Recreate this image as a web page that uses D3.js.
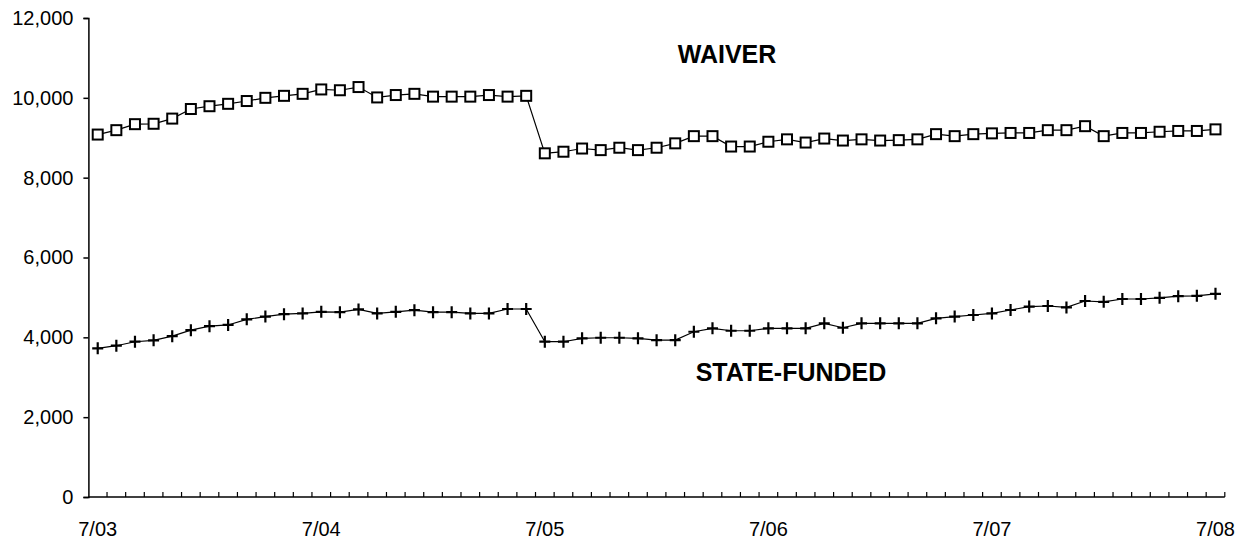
<!DOCTYPE html>
<html>
<head>
<meta charset="utf-8">
<script src="https://cdn.jsdelivr.net/npm/d3@7"></script>
<style>
  html, body { margin: 0; padding: 0; background: #fff; }
  svg { display: block; }
  text { font-family: Arial, "Liberation Sans", sans-serif; fill: #000; }
</style>
</head>
<body>
<svg id="chart" width="1248" height="542"></svg>
<script>
// Monthly caseload, July 2003 through July 2008
const months = d3.timeMonths(new Date(2003, 6, 1), new Date(2008, 7, 1));
const monthLabel = d3.timeFormat("%-m/%y");

const waiver = [
  9080, 9190, 9340, 9350, 9480, 9720, 9790, 9850, 9920, 10000,
  10050, 10100, 10210, 10190, 10270, 10010, 10070, 10100, 10030, 10030,
  10030, 10070, 10030, 10050,
  8610, 8650, 8730, 8690, 8750, 8690, 8750, 8860, 9040, 9040,
  8780, 8780, 8900, 8960, 8880, 8980, 8930, 8960, 8930, 8940,
  8960, 9090, 9040, 9090, 9110, 9120, 9120, 9190, 9190, 9290,
  9040, 9120, 9120, 9150, 9170, 9170, 9210
];

const stateFunded = [
  3725, 3790, 3890, 3925, 4030, 4180, 4280, 4310, 4450, 4520,
  4580, 4600, 4640, 4630, 4700, 4600, 4640, 4680, 4630, 4630,
  4600, 4600, 4710, 4710,
  3890, 3890, 3975, 3990, 3990, 3975, 3930, 3930, 4140, 4225,
  4165, 4165, 4225, 4225, 4225, 4350, 4240, 4350, 4350, 4350,
  4350, 4475, 4520, 4560, 4600, 4685, 4770, 4785, 4750, 4910,
  4890, 4960, 4960, 4990, 5030, 5040, 5090
];

const xTickLabels = ["7/03", "7/04", "7/05", "7/06", "7/07", "7/08"];
const yTicks = [0, 2000, 4000, 6000, 8000, 10000, 12000];

const svg = d3.select("#chart");

const cats = months.map(monthLabel);
const x = d3.scaleBand().domain(cats).range([88.4, 1224.8]).padding(0);
const y = d3.scaleLinear().domain([0, 12000]).range([497, 18]);

// Y axis
const yAxis = d3.axisLeft(y)
  .tickValues(yTicks)
  .tickFormat(d3.format(","))
  .tickSize(5)
  .tickPadding(10);
const gy = svg.append("g").attr("transform", `translate(${x.range()[0]},0)`).call(yAxis);
gy.select(".domain").attr("stroke", "#000").attr("stroke-width", 1.5);
gy.selectAll(".tick line").attr("stroke", "#000").attr("stroke-width", 1.5);
gy.selectAll(".tick text").attr("font-size", 20).attr("font-family", "Arial, 'Liberation Sans', sans-serif").attr("fill", "#000");

// X axis: baseline with monthly ticks between categories
const gx = svg.append("g");
gx.append("line")
  .attr("x1", x.range()[0]).attr("x2", x.range()[1])
  .attr("y1", y(0)).attr("y2", y(0))
  .attr("stroke", "#000").attr("stroke-width", 1.5);
const tickPos = cats.map(c => x(c)).concat([x(cats[cats.length - 1]) + x.bandwidth()]).slice(1);
gx.selectAll("line.tick")
  .data(tickPos)
  .join("line")
  .attr("class", "tick")
  .attr("x1", d => d).attr("x2", d => d)
  .attr("y1", y(0)).attr("y2", y(0) - 5)
  .attr("stroke", "#000").attr("stroke-width", 1.2);
gx.selectAll("text.xl")
  .data(xTickLabels)
  .join("text")
  .attr("class", "xl")
  .attr("x", d => x(d) + x.bandwidth() / 2)
  .attr("y", 536)
  .attr("text-anchor", "middle")
  .attr("font-size", 20)
  .text(d => d);

// Series lines
const line = d3.line()
  .x((d, i) => x(cats[i]) + x.bandwidth() / 2)
  .y(d => y(d));

svg.append("path").datum(waiver)
  .attr("d", line).attr("fill", "none").attr("stroke", "#000").attr("stroke-width", 1.2);
svg.append("path").datum(stateFunded)
  .attr("d", line).attr("fill", "none").attr("stroke", "#000").attr("stroke-width", 1.2);

// Square markers for waiver
svg.append("g").selectAll("rect")
  .data(waiver)
  .join("rect")
  .attr("x", (d, i) => x(cats[i]) + x.bandwidth() / 2 - 5)
  .attr("y", d => y(d) - 5)
  .attr("width", 10).attr("height", 10)
  .attr("fill", "#fff").attr("stroke", "#000").attr("stroke-width", 2);

// Plus markers for state-funded
svg.append("g").selectAll("path")
  .data(stateFunded)
  .join("path")
  .attr("d", (d, i) => {
    const cx = x(cats[i]) + x.bandwidth() / 2, cy = y(d);
    return `M${cx - 5.5},${cy}H${cx + 5.5}M${cx},${cy - 6}V${cy + 6}`;
  })
  .attr("stroke", "#000").attr("stroke-width", 2.2).attr("fill", "none");

// Series labels
svg.append("text")
  .attr("x", 727).attr("y", 63)
  .attr("text-anchor", "middle")
  .attr("font-size", 25).attr("font-weight", "bold")
  .text("WAIVER");
svg.append("text")
  .attr("x", 791).attr("y", 381)
  .attr("text-anchor", "middle")
  .attr("font-size", 25).attr("font-weight", "bold")
  .text("STATE-FUNDED");
</script>
</body>
</html>
